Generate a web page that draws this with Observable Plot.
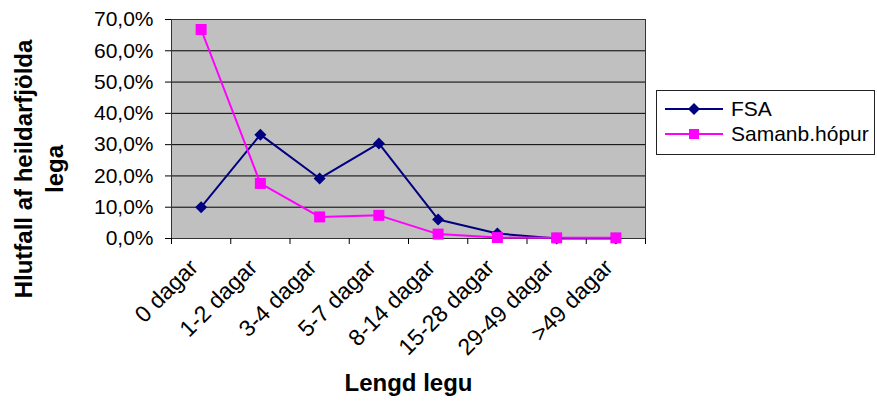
<!DOCTYPE html>
<html>
<head>
<meta charset="utf-8">
<script src="https://cdn.jsdelivr.net/npm/d3@7"></script>
<script src="https://cdn.jsdelivr.net/npm/@observablehq/plot@0.6"></script>
<style>
  html, body { margin: 0; padding: 0; background: #fff; }
  #wrap { position: relative; width: 877px; height: 401px; font-family: "Liberation Sans", Arial, sans-serif; }
  #legend { position: absolute; left: 656px; top: 90px; width: 219px; height: 65px; border: 1px solid #222; background: #fff; box-sizing: border-box; }
  .item { position: absolute; left: 8px; height: 24px; display: flex; align-items: center; font-size: 21px; color: #000; }
  .item svg { margin-right: 6px; }
</style>
</head>
<body>
<div id="wrap"></div>
<script>
const categories = ["0 dagar", "1-2 dagar", "3-4 dagar", "5-7 dagar", "8-14 dagar", "15-28 dagar", "29-49 dagar", ">49 dagar"];
const fsaValues = [10.0, 33.2, 19.2, 30.4, 6.1, 1.6, 0.0, 0.0];
const samanbValues = [66.8, 17.6, 6.9, 7.4, 1.4, 0.3, 0.2, 0.2];
const yTicks = [0, 10, 20, 30, 40, 50, 60, 70];
const seriesNames = ["FSA", "Samanb.hópur"];
const seriesColors = ["#000080", "#ff00ff"];

const fsa = categories.map((c, i) => ({pos: i + 0.5, value: fsaValues[i]}));
const samanb = categories.map((c, i) => ({pos: i + 0.5, value: samanbValues[i]}));

const fmt = d => d.toFixed(1).replace(".", ",") + "%";

const chart = Plot.plot({
  width: 877,
  height: 401,
  marginLeft: 171,
  marginRight: 232,
  marginTop: 19,
  marginBottom: 163,
  style: {fontFamily: "'Liberation Sans', Arial, sans-serif", background: "white", color: "black", overflow: "visible"},
  x: {type: "linear", domain: [0, categories.length], axis: null, label: null},
  y: {domain: [0, 70], axis: null, label: null},
  marks: [
    Plot.frame({fill: "#c0c0c0", stroke: null}),
    Plot.ruleY(yTicks, {stroke: "black", strokeWidth: 1}),
    Plot.frame({stroke: "#333", strokeWidth: 1}),
    Plot.axisY(yTicks, {tickSize: 6, tickPadding: 12, tickFormat: fmt, fontSize: 21, stroke: "black", label: null}),
    Plot.axisX(d3.range(categories.length + 1), {tickSize: 6, tickFormat: () => "", stroke: "black", label: null}),
    Plot.axisX(categories.map((c, i) => i + 0.5), {tickSize: 0, tickPadding: 25, dx: -7, tickRotate: -45, fontSize: 23, label: null, tickFormat: d => categories[Math.floor(d)]}),
    Plot.line(fsa, {x: "pos", y: "value", stroke: seriesColors[0], strokeWidth: 2}),
    Plot.line(samanb, {x: "pos", y: "value", stroke: seriesColors[1], strokeWidth: 2}),
    Plot.dot(fsa, {x: "pos", y: "value", symbol: "diamond2", r: 5.4, fill: seriesColors[0], stroke: null}),
    Plot.dot(samanb, {x: "pos", y: "value", symbol: "square", r: 6.2, fill: seriesColors[1], stroke: null}),
    Plot.text(["Hlutfall af heildarfjölda\nlega"], {frameAnchor: "left", dx: -134, dy: 40, rotate: -90, fontSize: 24, fontWeight: "bold", lineHeight: 1.3, textAnchor: "middle"}),
    Plot.text(["Lengd legu"], {frameAnchor: "bottom", dy: 152, fontSize: 24, fontWeight: "bold", textAnchor: "middle"})
  ]
});

const wrap = document.getElementById("wrap");
wrap.appendChild(chart);

const legend = document.createElement("div");
legend.id = "legend";
legend.innerHTML = `
  <div class="item" style="top:6px">
    <svg width="60" height="16"><line x1="0" y1="8" x2="58" y2="8" stroke="${seriesColors[0]}" stroke-width="2"/><polygon points="29,2 35,8 29,14 23,8" fill="${seriesColors[0]}"/></svg>${seriesNames[0]}
  </div>
  <div class="item" style="top:31px">
    <svg width="60" height="16"><line x1="0" y1="8" x2="58" y2="8" stroke="${seriesColors[1]}" stroke-width="2"/><rect x="24" y="3" width="10" height="10" fill="${seriesColors[1]}"/></svg>${seriesNames[1]}
  </div>`;
wrap.appendChild(legend);
</script>
</body>
</html>
